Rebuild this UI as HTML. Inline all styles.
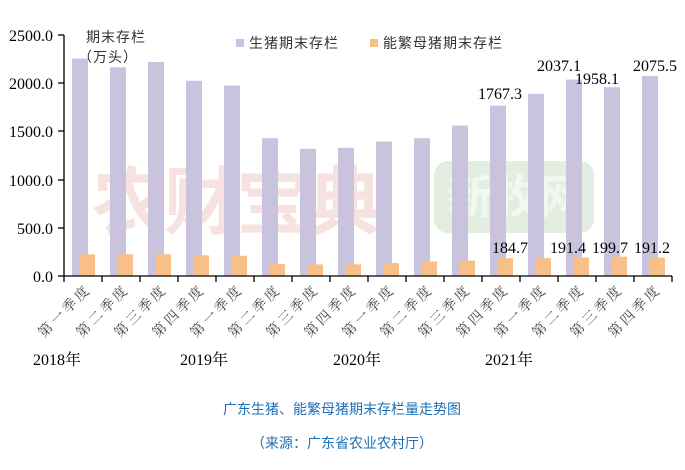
<!DOCTYPE html>
<html><head><meta charset="utf-8"><style>
body{margin:0;background:#fff;}
svg{display:block;}
text{font-family:"Liberation Serif","Noto Serif CJK SC",serif;}
.cj{font-family:"Liberation Sans","Noto Sans CJK SC",sans-serif;}
</style></head><body>
<svg width="685" height="470" viewBox="0 0 685 470" xmlns="http://www.w3.org/2000/svg">
<rect width="685" height="470" fill="#fff"/>
<text x="92" y="228" class="cj" font-size="74" font-weight="bold" fill="#f6e2df" letter-spacing="-2">农财宝典</text>
<rect x="434" y="161" width="160" height="72" rx="14" fill="#e3eee0"/>
<text x="447" y="213" class="cj" font-size="46" font-weight="bold" fill="#f3f7f1">新牧网</text>
<g fill="#c9c3dd">
<rect x="72" y="58.6" width="16" height="217.4"/>
<rect x="110" y="67.3" width="16" height="208.7"/>
<rect x="148" y="62" width="16" height="214"/>
<rect x="186" y="80.8" width="16" height="195.2"/>
<rect x="224" y="85.6" width="16" height="190.4"/>
<rect x="262" y="138.2" width="16" height="137.8"/>
<rect x="300" y="148.8" width="16" height="127.2"/>
<rect x="338" y="147.8" width="16" height="128.2"/>
<rect x="376" y="141.5" width="16" height="134.5"/>
<rect x="414" y="138.2" width="16" height="137.8"/>
<rect x="452" y="125.6" width="16" height="150.4"/>
<rect x="490" y="105.6" width="16" height="170.4"/>
<rect x="528" y="93.8" width="16" height="182.2"/>
<rect x="566" y="79.6" width="16" height="196.4"/>
<rect x="604" y="87.2" width="16" height="188.8"/>
<rect x="642" y="75.9" width="16" height="200.1"/>
</g>
<g fill="#f8bf88">
<rect x="80" y="254.3" width="15" height="21.7"/>
<rect x="118" y="254.3" width="15" height="21.7"/>
<rect x="156" y="254.3" width="15" height="21.7"/>
<rect x="194" y="255.3" width="15" height="20.7"/>
<rect x="232" y="255.8" width="15" height="20.2"/>
<rect x="270" y="263.9" width="15" height="12.1"/>
<rect x="308" y="264.4" width="15" height="11.6"/>
<rect x="346" y="264.4" width="15" height="11.6"/>
<rect x="384" y="263" width="15" height="13"/>
<rect x="422" y="261.5" width="15" height="14.5"/>
<rect x="460" y="260.6" width="15" height="15.4"/>
<rect x="498" y="258.2" width="15" height="17.8"/>
<rect x="536" y="258.2" width="15" height="17.8"/>
<rect x="574" y="257.5" width="15" height="18.5"/>
<rect x="612" y="256.7" width="15" height="19.3"/>
<rect x="650" y="257.6" width="15" height="18.4"/>
</g>
<line x1="64" y1="35" x2="64" y2="276" stroke="#000" stroke-width="1.3"/>
<line x1="64" y1="276" x2="672" y2="276" stroke="#000" stroke-width="1.3"/>
<g font-size="16" fill="#000" text-anchor="end">
<text x="53" y="41">2500.0</text>
<text x="53" y="89">2000.0</text>
<text x="53" y="137">1500.0</text>
<text x="53" y="186">1000.0</text>
<text x="53" y="234">500.0</text>
<text x="53" y="282">0.0</text>
</g>
<g stroke="#000" stroke-width="1.3">
<line x1="58" y1="35" x2="64" y2="35"/><line x1="58" y1="83" x2="64" y2="83"/><line x1="58" y1="131" x2="64" y2="131"/><line x1="58" y1="180" x2="64" y2="180"/><line x1="58" y1="228" x2="64" y2="228"/><line x1="58" y1="276" x2="64" y2="276"/>
<line x1="64" y1="276" x2="64" y2="282"/>
<line x1="102" y1="276" x2="102" y2="282"/><line x1="140" y1="276" x2="140" y2="282"/><line x1="178" y1="276" x2="178" y2="282"/><line x1="216" y1="276" x2="216" y2="282"/><line x1="254" y1="276" x2="254" y2="282"/><line x1="292" y1="276" x2="292" y2="282"/><line x1="330" y1="276" x2="330" y2="282"/><line x1="368" y1="276" x2="368" y2="282"/><line x1="406" y1="276" x2="406" y2="282"/><line x1="444" y1="276" x2="444" y2="282"/><line x1="482" y1="276" x2="482" y2="282"/><line x1="520" y1="276" x2="520" y2="282"/><line x1="558" y1="276" x2="558" y2="282"/><line x1="596" y1="276" x2="596" y2="282"/><line x1="634" y1="276" x2="634" y2="282"/><line x1="672" y1="276" x2="672" y2="282"/>
</g>
<g class="cj" font-size="14" fill="#444" text-anchor="end" letter-spacing="3">
<text transform="translate(92,290) rotate(-45)">第一季度</text>
<text transform="translate(130,290) rotate(-45)">第二季度</text>
<text transform="translate(168,290) rotate(-45)">第三季度</text>
<text transform="translate(206,290) rotate(-45)">第四季度</text>
<text transform="translate(244,290) rotate(-45)">第一季度</text>
<text transform="translate(282,290) rotate(-45)">第二季度</text>
<text transform="translate(320,290) rotate(-45)">第三季度</text>
<text transform="translate(358,290) rotate(-45)">第四季度</text>
<text transform="translate(396,290) rotate(-45)">第一季度</text>
<text transform="translate(434,290) rotate(-45)">第二季度</text>
<text transform="translate(472,290) rotate(-45)">第三季度</text>
<text transform="translate(510,290) rotate(-45)">第四季度</text>
<text transform="translate(548,290) rotate(-45)">第一季度</text>
<text transform="translate(586,290) rotate(-45)">第二季度</text>
<text transform="translate(624,290) rotate(-45)">第三季度</text>
<text transform="translate(662,290) rotate(-45)">第四季度</text>
</g>
<text x="86" y="42" class="cj" font-size="14" fill="#333" letter-spacing="1">期末存栏</text>
<text x="78" y="62" class="cj" font-size="14" fill="#333" letter-spacing="1">（万头）</text>
<rect x="236" y="39" width="8" height="8" fill="#c9c3dd"/>
<text x="249" y="48" class="cj" font-size="14" fill="#333" letter-spacing="1">生猪期末存栏</text>
<rect x="370" y="39" width="8" height="8" fill="#f8bf88"/>
<text x="383" y="48" class="cj" font-size="14" fill="#333" letter-spacing="1">能繁母猪期末存栏</text>
<g font-size="16" fill="#000" text-anchor="middle">
<text x="500" y="99">1767.3</text>
<text x="559" y="71">2037.1</text>
<text x="597" y="84">1958.1</text>
<text x="655" y="71">2075.5</text>
<text x="510" y="253">184.7</text>
<text x="568" y="253">191.4</text>
<text x="610" y="253">199.7</text>
<text x="652" y="253">191.2</text>
</g>
<g font-size="16" fill="#000">
<text x="33" y="365">2018年</text>
<text x="180" y="365">2019年</text>
<text x="333" y="365">2020年</text>
<text x="485" y="365">2021年</text>
</g>
<text x="342" y="414" text-anchor="middle" class="cj" font-size="14" fill="#1f6fb5">广东生猪、能繁母猪期末存栏量走势图</text>
<text x="342" y="448" text-anchor="middle" class="cj" font-size="14" fill="#1f6fb5">（来源：广东省农业农村厅）</text>
</svg>
</body></html>
